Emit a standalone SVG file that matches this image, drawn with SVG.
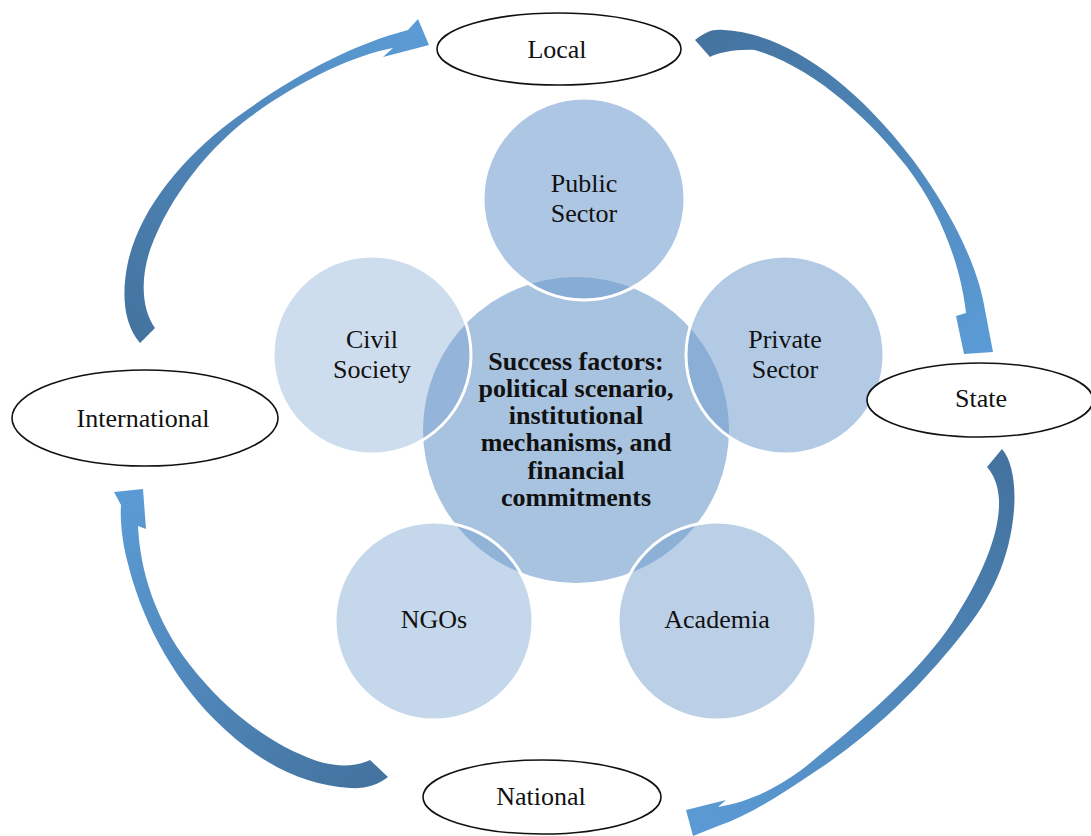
<svg xmlns="http://www.w3.org/2000/svg" width="1091" height="836" viewBox="0 0 1091 836">
  <style>
    .lbl { font-family: "Liberation Serif", "Times New Roman", serif; font-size: 26px; fill: #111; text-anchor: middle; }
    .hub { font-family: "Liberation Serif", "Times New Roman", serif; font-size: 26px; font-weight: bold; fill: #111; text-anchor: middle; }
    .level { fill: #fff; stroke: #111; stroke-width: 1.6; }
    .actor { fill: #6f9bcd; stroke: #fff; stroke-width: 3; }
  </style>
  <defs>
    <linearGradient id="g1" gradientUnits="userSpaceOnUse" x1="140" y1="340" x2="425" y2="35">
      <stop offset="0" stop-color="#44739f"/>
      <stop offset="1" stop-color="#5b9bd5"/>
    </linearGradient>
    <linearGradient id="g2" gradientUnits="userSpaceOnUse" x1="700" y1="45" x2="975" y2="350">
      <stop offset="0" stop-color="#44739f"/>
      <stop offset="1" stop-color="#5b9bd5"/>
    </linearGradient>
    <linearGradient id="g3" gradientUnits="userSpaceOnUse" x1="995" y1="460" x2="690" y2="825">
      <stop offset="0" stop-color="#44739f"/>
      <stop offset="1" stop-color="#5b9bd5"/>
    </linearGradient>
    <linearGradient id="g4" gradientUnits="userSpaceOnUse" x1="380" y1="770" x2="128" y2="492">
      <stop offset="0" stop-color="#44739f"/>
      <stop offset="1" stop-color="#5b9bd5"/>
    </linearGradient>
  </defs>

  <rect width="1091" height="836" fill="#fff"/>

  <!-- curved arrows linking the governance levels -->
  <g id="connectors">
    <path fill="url(#g1)" d="M140,343 C122,322 122,290 128,262 C140,210 180,160 233,120 C290,78 350,45 408,30 L418,19 L429,45 L383,57 L393,48 C355,55 300,80 250,117 C210,147 170,195 150,250 C140,280 142,310 155,328 Z"/>
    <path fill="url(#g2)" d="M695,40 C705,32 713,29 723,30 C775,32 845,70 913,160 C950,210 978,265 985,310 L993,352 L964,354 L956,316 L966,313 C961,266 940,210 907,167 C871,121 815,68 755,50 C735,49 718,53 710,57 Z"/>
    <path fill="url(#g3)" d="M1002,449 C1012,460 1016,485 1014,510 C1010,560 990,600 963,633 C930,675 880,730 813,773 C785,792 750,815 718,826 L693,836 L686,810 L726,800 L718,807 C760,800 793,778 816,758 C872,713 922,668 952,623 C986,570 1000,530 999,500 C998,485 994,475 987,467 Z"/>
    <path fill="url(#g4)" d="M388,777 C378,785 365,789 350,788 C300,785 255,760 215,720 C170,675 140,615 127,560 C122,540 120,520 121,505 L114,492 L143,489 L146,529 L138,526 C140,570 155,620 190,665 C225,710 270,745 317,761 C340,768 357,766 370,760 Z"/>
  </g>

  <!-- central hub -->
  <g id="hub">
    <circle cx="576" cy="430" r="153" fill="#a8c3e0"/>
  </g>

  <!-- stakeholder circles -->
  <g id="public-sector">
    <circle class="actor" cx="584" cy="199" r="101" fill-opacity="0.57"/>
    <text class="lbl" x="584" y="192">Public</text>
    <text class="lbl" x="584" y="222">Sector</text>
  </g>
  <g id="private-sector">
    <circle class="actor" cx="785" cy="355" r="99" fill-opacity="0.53"/>
    <text class="lbl" x="785" y="348">Private</text>
    <text class="lbl" x="785" y="378">Sector</text>
  </g>
  <g id="academia">
    <circle class="actor" cx="717" cy="621" r="99" fill-opacity="0.47"/>
    <text class="lbl" x="717" y="628">Academia</text>
  </g>
  <g id="ngos">
    <circle class="actor" cx="434" cy="621" r="99" fill-opacity="0.4"/>
    <text class="lbl" x="434" y="628">NGOs</text>
  </g>
  <g id="civil-society">
    <circle class="actor" cx="372" cy="355" r="99" fill-opacity="0.34"/>
    <text class="lbl" x="372" y="348">Civil</text>
    <text class="lbl" x="372" y="378">Society</text>
  </g>

  <g id="hub-label">
    <text class="hub" x="576" y="370">Success factors:</text>
    <text class="hub" x="576" y="397">political scenario,</text>
    <text class="hub" x="576" y="424">institutional</text>
    <text class="hub" x="576" y="451">mechanisms, and</text>
    <text class="hub" x="576" y="479">financial</text>
    <text class="hub" x="576" y="506">commitments</text>
  </g>

  <!-- governance levels -->
  <g id="local">
    <ellipse class="level" cx="559" cy="49" rx="122" ry="36"/>
    <text class="lbl" x="557" y="58">Local</text>
  </g>
  <g id="state">
    <ellipse class="level" cx="980" cy="400" rx="113" ry="37"/>
    <text class="lbl" x="981" y="407">State</text>
  </g>
  <g id="national">
    <ellipse class="level" cx="542" cy="797" rx="119" ry="37"/>
    <text class="lbl" x="541" y="805">National</text>
  </g>
  <g id="international">
    <ellipse class="level" cx="145" cy="418" rx="133" ry="48"/>
    <text class="lbl" x="143" y="427">International</text>
  </g>
</svg>
